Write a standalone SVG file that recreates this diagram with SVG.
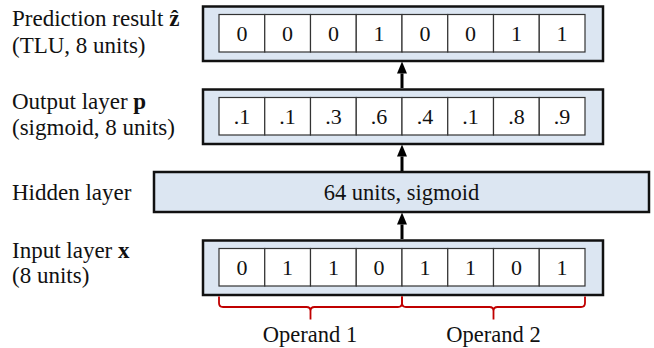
<svg xmlns="http://www.w3.org/2000/svg" width="654" height="348" viewBox="0 0 654 348">
  <style>
    text { font-family: "Liberation Serif", "Times New Roman", serif; fill: #111; }
    .lbl { font-size: 23px; }
    .val { font-size: 22px; text-anchor: middle; }
    .mid { font-size: 22.5px; text-anchor: middle; }
    .layer { fill: #dce6f2; stroke: #111; stroke-width: 2.5; }
    .cell { fill: #fff; stroke: #333; stroke-width: 1.2; }
    .brace { fill: none; stroke: #c00000; stroke-width: 1.8; stroke-linejoin: round; }
    .flow { stroke: #000; stroke-width: 3; }
  </style>
  <defs>
    <marker id="head" viewBox="0 0 12 10" refX="0" refY="5" markerWidth="12" markerHeight="10" markerUnits="userSpaceOnUse" orient="auto">
      <path d="M0,0 L12,5 L0,10 z" fill="#000"/>
    </marker>
    <!-- one row of 8 cells, 45.75 wide each -->
    <g id="cells">
      <rect class="cell" x="219" y="0" width="45.75" height="37.5"/>
      <rect class="cell" x="264.75" y="0" width="45.75" height="37.5"/>
      <rect class="cell" x="310.5" y="0" width="45.75" height="37.5"/>
      <rect class="cell" x="356.25" y="0" width="45.75" height="37.5"/>
      <rect class="cell" x="402" y="0" width="45.75" height="37.5"/>
      <rect class="cell" x="447.75" y="0" width="45.75" height="37.5"/>
      <rect class="cell" x="493.5" y="0" width="45.75" height="37.5"/>
      <rect class="cell" x="539.25" y="0" width="45.75" height="37.5"/>
    </g>
  </defs>

  <!-- prediction result (TLU) -->
  <g id="prediction">
    <text class="lbl" x="12" y="26">Prediction result <tspan font-weight="bold">ẑ</tspan></text>
    <text class="lbl" x="12" y="52.5">(TLU, 8 units)</text>
    <rect class="layer" x="203" y="6.5" width="400" height="54.5"/>
    <use href="#cells" y="14.5"/>
    <text class="val" x="241.9" y="41">0</text>
    <text class="val" x="287.6" y="41">0</text>
    <text class="val" x="333.4" y="41">0</text>
    <text class="val" x="379.1" y="41">1</text>
    <text class="val" x="424.9" y="41">0</text>
    <text class="val" x="470.6" y="41">0</text>
    <text class="val" x="516.4" y="41">1</text>
    <text class="val" x="562.1" y="41">1</text>
  </g>

  <!-- output layer (sigmoid) -->
  <g id="output">
    <text class="lbl" x="12" y="108.5">Output layer <tspan font-weight="bold">p</tspan></text>
    <text class="lbl" x="12" y="134.5">(sigmoid, 8 units)</text>
    <rect class="layer" x="203" y="89.5" width="400" height="54.5"/>
    <use href="#cells" y="97.5"/>
    <text class="val" x="241.9" y="124">.1</text>
    <text class="val" x="287.6" y="124">.1</text>
    <text class="val" x="333.4" y="124">.3</text>
    <text class="val" x="379.1" y="124">.6</text>
    <text class="val" x="424.9" y="124">.4</text>
    <text class="val" x="470.6" y="124">.1</text>
    <text class="val" x="516.4" y="124">.8</text>
    <text class="val" x="562.1" y="124">.9</text>
  </g>

  <!-- hidden layer -->
  <g id="hidden">
    <text class="lbl" x="12" y="199.5">Hidden layer</text>
    <rect class="layer" x="154" y="172" width="495" height="40" stroke-width="2"/>
    <text class="mid" x="401.5" y="199.5">64 units, sigmoid</text>
  </g>

  <!-- input layer -->
  <g id="input">
    <text class="lbl" x="12" y="257.5">Input layer <tspan font-weight="bold">x</tspan></text>
    <text class="lbl" x="12" y="283">(8 units)</text>
    <rect class="layer" x="203" y="240.5" width="400" height="54.5"/>
    <use href="#cells" y="248.5"/>
    <text class="val" x="241.9" y="275">0</text>
    <text class="val" x="287.6" y="275">1</text>
    <text class="val" x="333.4" y="275">1</text>
    <text class="val" x="379.1" y="275">0</text>
    <text class="val" x="424.9" y="275">1</text>
    <text class="val" x="470.6" y="275">1</text>
    <text class="val" x="516.4" y="275">0</text>
    <text class="val" x="562.1" y="275">1</text>
  </g>

  <!-- operand braces -->
  <g id="operands">
    <path class="brace" d="M219,296.5 V303 Q219,307 223,307 H306.5 Q310.5,307 310.5,311 V319.5 M310.5,311 Q310.5,307 314.5,307 H398 Q402,307 402,303 V296.5"/>
    <path class="brace" d="M402,296.5 V303 Q402,307 406,307 H489.5 Q493.5,307 493.5,311 V319.5 M493.5,311 Q493.5,307 497.5,307 H581 Q585,307 585,303 V296.5"/>
    <text class="mid" x="310" y="341.5">Operand 1</text>
    <text class="mid" x="493.5" y="341.5">Operand 2</text>
  </g>

  <!-- connectors -->
  <g id="connectors">
    <line class="flow" x1="402" y1="239" x2="402" y2="224.5" marker-end="url(#head)"/>
    <line class="flow" x1="402" y1="171" x2="402" y2="156.5" marker-end="url(#head)"/>
    <line class="flow" x1="402" y1="88" x2="402" y2="73.5" marker-end="url(#head)"/>
  </g>
</svg>
